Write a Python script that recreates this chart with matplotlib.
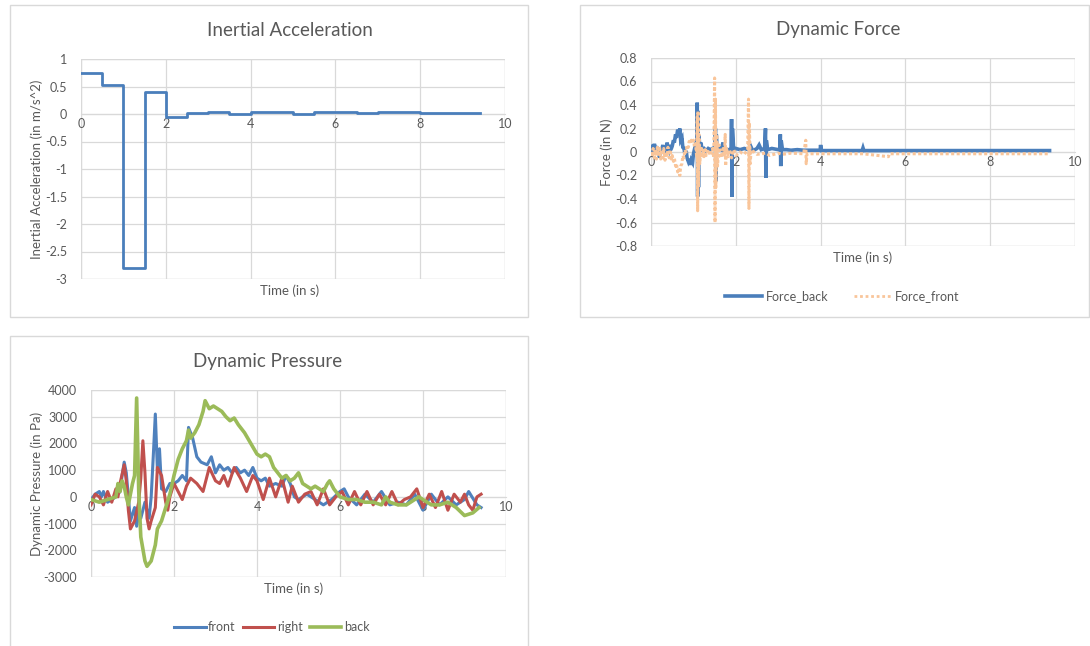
import matplotlib
matplotlib.use("Agg")
import matplotlib.pyplot as plt
from matplotlib.patches import Rectangle
from matplotlib.lines import Line2D

plt.rcParams['font.family'] = ['Lato', 'DejaVu Sans']

# ---------------- data ----------------
# Inertial acceleration (step, value held from each time)
acc_t = [0.0, 0.5, 1.0, 1.5, 2.0, 2.5, 3.0, 3.5, 4.0, 5.0, 5.5, 6.5, 7.0, 8.0, 9.4]
acc_v = [0.75, 0.52, -2.8, 0.40, -0.06, 0.02, 0.04, 0.00, 0.04, 0.00, 0.04, 0.02, 0.04, 0.02, 0.02]

# Dynamic force
fb_t = [0.00, 0.03, 0.05, 0.08, 0.10, 0.13, 0.15, 0.18, 0.20, 0.23, 0.25, 0.28, 0.30, 0.33, 0.35,
        0.38, 0.40, 0.43, 0.45, 0.48, 0.50, 0.53, 0.55, 0.58, 0.60, 0.63, 0.65, 0.68, 0.70, 0.73,
        0.75, 0.78, 0.80, 0.83, 0.85, 0.88, 0.90, 0.93, 0.95, 0.98, 1.00, 1.03, 1.05, 1.08, 1.09,
        1.10, 1.11, 1.12, 1.13, 1.15, 1.18, 1.20, 1.25, 1.30, 1.35, 1.40, 1.45, 1.50, 1.52, 1.53,
        1.54, 1.56, 1.60, 1.65, 1.70, 1.72, 1.75, 1.80, 1.85, 1.89, 1.90, 1.91, 1.92, 1.95, 2.00,
        2.10, 2.20, 2.30, 2.35, 2.40, 2.50, 2.55, 2.60, 2.68, 2.70, 2.71, 2.72, 2.75, 2.85, 3.00,
        3.04, 3.05, 3.06, 3.07, 3.10, 3.20, 3.30, 3.45, 3.60, 3.70, 3.85, 3.99, 4.00, 4.02, 4.10,
        4.50, 4.98, 5.00, 5.02, 5.30, 5.60, 6.00, 6.50, 7.00, 7.50, 8.00, 8.50, 9.00, 9.40]
fb_v = [0.03, 0.06, 0.00, 0.07, 0.02, 0.05, -0.02, 0.04, -0.05, 0.03, 0.01, 0.06, 0.00, 0.03, -0.03,
        0.08, 0.02, 0.06, 0.01, 0.03, 0.05, 0.10, 0.08, 0.15, 0.12, 0.19, 0.14, 0.20, 0.10, 0.12,
        0.04, 0.03, -0.02, 0.01, -0.05, -0.08, -0.06, -0.11, -0.07, -0.09, -0.02, 0.03, 0.06, 0.10, 0.42,
        -0.38, 0.35, -0.30, 0.14, 0.05, 0.08, 0.02, 0.03, 0.01, 0.03, 0.02, 0.03, 0.02, 0.20, -0.25,
        0.15, 0.02, 0.03, 0.02, 0.08, 0.01, 0.03, 0.02, 0.02, 0.01, 0.28, -0.38, 0.20, 0.02, 0.03,
        0.02, 0.03, 0.02, 0.05, 0.01, 0.03, 0.06, 0.02, 0.03, 0.20, -0.22, 0.10, 0.02, 0.03, 0.02,
        0.02, 0.15, -0.12, 0.10, 0.02, 0.02, 0.015, 0.02, 0.015, 0.015, 0.015, 0.015, 0.06, 0.012, 0.012,
        0.012, 0.012, 0.035, 0.012, 0.012, 0.012, 0.012, 0.012, 0.012, 0.012, 0.012, 0.012, 0.012, 0.012]

ff_t = [0.00, 0.03, 0.05, 0.08, 0.10, 0.13, 0.15, 0.18, 0.20, 0.23, 0.25, 0.28, 0.30, 0.33, 0.35,
        0.38, 0.40, 0.43, 0.45, 0.48, 0.50, 0.53, 0.55, 0.58, 0.60, 0.63, 0.65, 0.68, 0.70, 0.73,
        0.75, 0.78, 0.80, 0.83, 0.85, 0.88, 0.90, 0.93, 0.95, 0.98, 1.00, 1.03, 1.05, 1.08, 1.09,
        1.10, 1.11, 1.12, 1.13, 1.15, 1.18, 1.20, 1.23, 1.25, 1.28, 1.30, 1.35, 1.40, 1.45, 1.48,
        1.50, 1.51, 1.52, 1.53, 1.55, 1.57, 1.60, 1.65, 1.70, 1.73, 1.75, 1.76, 1.78, 1.82, 1.85,
        1.90, 1.95, 2.00, 2.10, 2.20, 2.28, 2.30, 2.31, 2.32, 2.34, 2.36, 2.50, 2.70, 2.80, 3.00,
        3.10, 3.30, 3.60, 3.65, 3.66, 3.68, 4.00, 5.00, 5.60, 5.62, 6.50, 7.50, 8.50, 9.40]
ff_v = [0.00, -0.04, 0.03, -0.05, 0.02, -0.06, 0.04, -0.03, 0.05, -0.06, 0.02, -0.05, 0.03, -0.07, 0.00,
        -0.04, 0.04, -0.05, 0.02, -0.06, -0.03, -0.08, -0.05, -0.12, -0.10, -0.17, -0.14, -0.20, -0.12, -0.10,
        -0.03, -0.05, 0.02, 0.00, 0.06, 0.04, 0.09, 0.07, 0.10, 0.08, 0.10, 0.04, 0.07, -0.05, 0.30,
        -0.50, 0.35, -0.30, 0.15, -0.10, 0.05, -0.05, 0.03, -0.04, 0.02, -0.03, 0.02, -0.03, 0.03, -0.05,
        0.63, -0.60, 0.45, -0.30, 0.15, -0.12, 0.06, -0.05, 0.03, -0.04, 0.15, -0.12, 0.03, -0.04, 0.02,
        -0.05, 0.02, -0.03, 0.00, -0.02, 0.02, 0.45, -0.48, 0.25, -0.10, 0.02, -0.02, -0.01, -0.03, -0.01,
        -0.02, -0.01, -0.015, 0.10, -0.10, -0.015, -0.015, -0.015, -0.04, -0.015, -0.015, -0.015, -0.015, -0.015]

# Dynamic pressure
pf_t = [0.0, 0.1, 0.2, 0.25, 0.3, 0.4, 0.5, 0.6, 0.7, 0.75, 0.8, 0.85, 0.9, 0.95, 1.05, 1.1, 1.15, 1.2,
        1.3, 1.4, 1.45, 1.5, 1.55, 1.6, 1.65, 1.7, 1.8, 1.9, 2.0, 2.1, 2.2, 2.3, 2.35, 2.45, 2.55, 2.65,
        2.8, 2.9, 3.0, 3.1, 3.2, 3.3, 3.4, 3.5, 3.6, 3.7, 3.8, 3.9, 4.0, 4.1, 4.2, 4.3, 4.45, 4.6, 4.7,
        4.8, 4.9, 5.0, 5.2, 5.4, 5.6, 5.8, 6.0, 6.1, 6.2, 6.4, 6.6, 6.8, 7.0, 7.2, 7.4, 7.6, 7.8, 8.0,
        8.2, 8.4, 8.6, 8.8, 9.0, 9.1, 9.3, 9.4]
pf_v = [-100, 100, 200, 0, 200, -200, -100, 0, 200, 800, 1300, 900, 0, -900, -400, -1100, -600, -800,
        -200, -800, 0, 1500, 3100, 1000, 1800, 300, 200, 500, 500, 600, 800, 600, 2600, 2200, 1500, 1300,
        1200, 1500, 900, 1200, 1000, 1100, 900, 1100, 900, 1000, 800, 1100, 700, 600, 700, 400, 500, 400, 800,
        500, 0, -100, 100, -100, -300, -100, 200, 300, 0, -300, 100, -200, 200, -300, -200, -300, 100, -500,
        100, -300, 0, -300, -100, 200, -300, -400]

pr_t = [0.0, 0.1, 0.2, 0.3, 0.4, 0.5, 0.6, 0.65, 0.7, 0.8, 0.85, 0.9, 0.95, 1.05, 1.15, 1.2, 1.25, 1.3,
        1.35, 1.4, 1.45, 1.55, 1.6, 1.7, 1.8, 1.85, 1.9, 2.0, 2.1, 2.2, 2.3, 2.4, 2.55, 2.7, 2.85, 3.0,
        3.1, 3.2, 3.3, 3.45, 3.6, 3.75, 3.9, 4.0, 4.15, 4.3, 4.45, 4.6, 4.75, 4.85, 5.0, 5.15, 5.3, 5.45,
        5.6, 5.75, 5.9, 6.05, 6.2, 6.35, 6.5, 6.65, 6.8, 6.95, 7.1, 7.25, 7.4, 7.55, 7.7, 7.85, 8.0, 8.15,
        8.3, 8.45, 8.6, 8.75, 8.9, 9.0, 9.1, 9.2, 9.3, 9.4]
pr_v = [-300, 100, 0, -300, 200, -200, 300, 0, 500, 1200, 600, -500, -1200, -900, -200, 700, 2100, 900,
        -800, -1200, -900, -400, 1100, 800, -200, -500, 0, 500, 200, -100, 400, 700, 500, 200, 1100, 600,
        500, 800, 400, 1100, 700, 200, 800, 600, -100, 700, 0, 700, -200, 400, -200, 100, 200, -300,
        300, -300, 0, 200, -300, 200, -300, 200, -300, 100, -300, 200, -300, -100, 0, 300, -400, 100,
        -400, 200, -500, 100, -200, 100, -300, -500, 0, 100]

pb_t = [0.0, 0.2, 0.4, 0.6, 0.65, 0.7, 0.75, 0.8, 0.85, 0.9, 0.95, 1.0, 1.05, 1.1, 1.15, 1.2, 1.3, 1.35,
        1.45, 1.55, 1.6, 1.7, 1.8, 1.9, 2.0, 2.1, 2.2, 2.3, 2.35, 2.4, 2.5, 2.6, 2.7, 2.75, 2.85, 2.95,
        3.05, 3.15, 3.25, 3.35, 3.45, 3.55, 3.7, 3.85, 4.0, 4.1, 4.2, 4.3, 4.4, 4.5, 4.6, 4.7, 4.8, 4.9,
        5.0, 5.1, 5.3, 5.4, 5.5, 5.6, 5.7, 5.75, 5.85, 6.0, 6.2, 6.4, 6.6, 6.8, 7.0, 7.1, 7.2, 7.4, 7.6,
        7.8, 7.9, 8.0, 8.2, 8.4, 8.6, 8.8, 9.0, 9.2, 9.35]
pb_v = [-100, -200, -100, 0, 500, 200, 600, 400, 0, -300, 100, 500, 800, 3700, 200, -1500, -2400, -2600,
        -2400, -1800, -1200, -900, -400, 100, 800, 1400, 1800, 2100, 2500, 2200, 2400, 2700, 3200, 3600, 3300, 3400,
        3300, 3200, 3000, 2850, 2950, 2700, 2400, 2000, 1600, 1500, 1600, 1500, 1100, 900, 700, 800, 600, 700,
        900, 500, 300, 400, 300, 200, 500, 600, 300, 0, -100, -100, -200, -200, -300, 0, -200, -300, -300,
        -100, 0, -100, -300, -300, -200, -400, -700, -600, -400]

# ---------------- style ----------------
W, H = 1090, 646
TXT = '#595959'
GRID = '#D9D9D9'

fig = plt.figure(figsize=(W / 100, H / 100), dpi=100)
fig.patch.set_facecolor('white')


def px_axes(l, t, r, b):
    return fig.add_axes([l / W, 1 - b / H, (r - l) / W, (b - t) / H])


def border(l, t, r, b):
    fig.add_artist(Rectangle((l / W, 1 - b / H), (r - l) / W, (b - t) / H, transform=fig.transFigure,
                             fill=False, edgecolor=GRID, linewidth=1.0))


def style(ax, xlim, ylim, yticks, yfmt):
    ax.set_xlim(*xlim)
    ax.set_ylim(*ylim)
    ax.set_xticks(range(0, 11, 2))
    ax.set_yticks(yticks)
    ax.set_yticklabels([yfmt(v) for v in yticks])
    for s in ['top', 'right', 'left']:
        ax.spines[s].set_visible(False)
    ax.spines['bottom'].set_position(('data', 0))
    ax.spines['bottom'].set_color(GRID)
    ax.spines['bottom'].set_zorder(0.5)
    ax.grid(True, color=GRID, linewidth=0.9)
    ax.set_axisbelow(True)
    ax.tick_params(length=0, labelsize=9, colors=TXT, pad=4)
    ax.tick_params(axis='x', pad=3)
    ax.yaxis.set_tick_params(pad=10)
    ax.set_facecolor('white')
    ax.axvline(xlim[0], color=GRID, lw=0.9, zorder=0)
    ax.axvline(xlim[1], color=GRID, lw=0.9, zorder=0)
    ax.axhline(ylim[0], color=GRID, lw=0.9, zorder=0)
    ax.axhline(ylim[1], color=GRID, lw=0.9, zorder=0)


def fmt_num(v):
    return '%g' % v


# ---- Panel 1: Inertial Acceleration ----
border(10, 5, 528, 317)
ax1 = px_axes(81, 59, 505, 279)
style(ax1, (0, 10), (-3, 1), [1, 0.5, 0, -0.5, -1, -1.5, -2, -2.5, -3], fmt_num)
ax1.step(acc_t, acc_v, where='post', color='#4A7EBB', linewidth=2.0)
fig.text(290 / W, 1 - 30 / H, 'Inertial Acceleration', ha='center', va='center', fontsize=13.5, color=TXT)
fig.text(37 / W, 1 - 169 / H, 'Inertial Acceleration (in m/s^2)', ha='center', va='center',
         rotation=90, fontsize=9.5, color=TXT)
fig.text(290 / W, 1 - 291 / H, 'Time (in s)', ha='center', va='center', fontsize=9.5, color=TXT)

# ---- Panel 2: Dynamic Force ----
border(580, 5, 1089, 317)
ax2 = px_axes(651, 58, 1075, 246)
style(ax2, (0, 10), (-0.8, 0.8), [0.8, 0.6, 0.4, 0.2, 0, -0.2, -0.4, -0.6, -0.8],
      lambda v: '0' if v == 0 else '%.1f' % v)
ax2.plot(fb_t, fb_v, color='#4A7EBB', linewidth=2.6, solid_joinstyle='miter', zorder=3)
ax2.plot(ff_t, ff_v, color='#F9C59A', linewidth=2.2, linestyle=(0, (1, 0.8)), zorder=4)
fig.text(838 / W, 1 - 30 / H, 'Dynamic Force', ha='center', va='center', fontsize=13.5, color=TXT)
fig.text(607 / W, 1 - 152 / H, 'Force (in N)', ha='center', va='center',
         rotation=90, fontsize=9.5, color=TXT)
fig.text(863 / W, 1 - 258 / H, 'Time (in s)', ha='center', va='center', fontsize=9.5, color=TXT)
h2 = [Line2D([], [], color='#4A7EBB', linewidth=2.6),
      Line2D([], [], color='#F9C59A', linewidth=2.0, linestyle=(0, (1, 1)))]
fig.legend(h2, ['Force_back', 'Force_front'], loc='center', bbox_to_anchor=(842 / W, 1 - 296 / H),
           ncol=2, frameon=False, fontsize=9, handlelength=3.0, columnspacing=2.0, handletextpad=0.3,
           labelcolor=TXT)

# ---- Panel 3: Dynamic Pressure ----
border(10, 336, 528, 652)
ax3 = px_axes(91, 390, 506, 577)
style(ax3, (0, 10), (-3000, 4000), [4000, 3000, 2000, 1000, 0, -1000, -2000, -3000], lambda v: '%d' % v)
ax3.plot(pf_t, pf_v, color='#4F81BD', linewidth=2.2, zorder=3)
ax3.plot(pr_t, pr_v, color='#C0504D', linewidth=2.2, zorder=3)
ax3.plot(pb_t, pb_v, color='#9BBB59', linewidth=2.6, zorder=3)
fig.text(268 / W, 1 - 361 / H, 'Dynamic Pressure', ha='center', va='center', fontsize=13.5, color=TXT)
fig.text(37 / W, 1 - 484 / H, 'Dynamic Pressure (in Pa)', ha='center', va='center',
         rotation=90, fontsize=9.5, color=TXT)
fig.text(294 / W, 1 - 589 / H, 'Time (in s)', ha='center', va='center', fontsize=9.5, color=TXT)
h3 = [Line2D([], [], color='#4F81BD', linewidth=2.2),
      Line2D([], [], color='#C0504D', linewidth=2.2),
      Line2D([], [], color='#9BBB59', linewidth=2.6)]
fig.legend(h3, ['front', 'right', 'back'], loc='center', bbox_to_anchor=(272 / W, 1 - 627 / H),
           ncol=3, frameon=False, fontsize=9, handlelength=2.5, columnspacing=0.6, handletextpad=0.2,
           labelcolor=TXT)

fig.savefig('out.png', dpi=100, facecolor='white')
